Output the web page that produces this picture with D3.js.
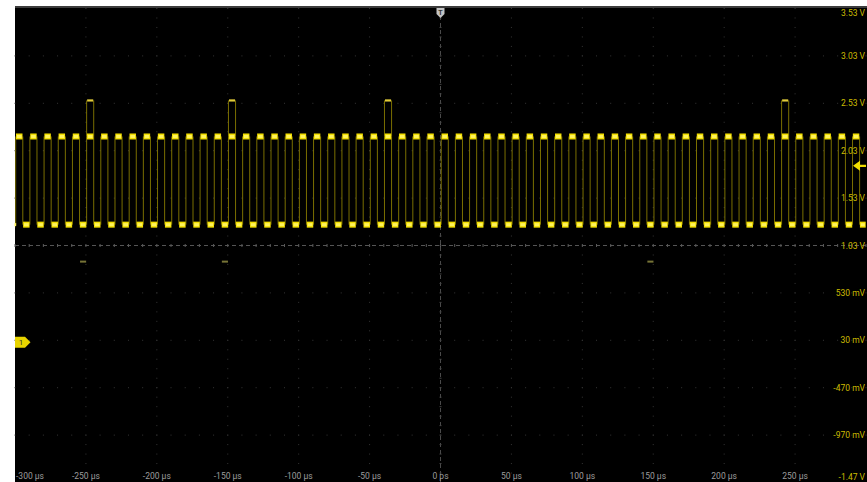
<!DOCTYPE html>
<html>
<head>
<meta charset="utf-8">
<script src="https://cdn.jsdelivr.net/npm/d3@7"></script>
<style>
  html, body { margin: 0; padding: 0; background: #ffffff; }
  svg { display: block; }
  text { font-family: Roboto, "DejaVu Sans", sans-serif; }
</style>
</head>
<body>
<svg id="chart" width="867" height="482"></svg>
<script>
// ---------- data ----------
const timeTicks = [-300, -250, -200, -150, -100, -50, 0, 50, 100, 150, 200, 250];
const timeLabels = ["-300 µs", "-250 µs", "-200 µs", "-150 µs", "-100 µs", "-50 µs", "0 ps", "50 µs", "100 µs", "150 µs", "200 µs", "250 µs"];
const voltTicks = [3.53, 3.03, 2.53, 2.03, 1.53, 1.03, 0.53, 0.03, -0.47, -0.97, -1.47];
const voltLabels = ["3.53 V", "3.03 V", "2.53 V", "2.03 V", "1.53 V", "1.03 V", "530 mV", "30 mV", "-470 mV", "-970 mV", "-1.47 V"];
// start times (µs) of each high interval of the square wave
const highStarts = [-299.5, -289.5, -279.5, -269.5, -259.5, -249.5, -239.5, -229.5, -219.5, -209.5,
  -199.5, -189.5, -179.5, -169.5, -159.5, -149.5, -139.5, -129.5, -119.5, -109.5,
  -99.5, -89.5, -79.5, -69.5, -59.5, -49.5, -39.5, -29.5, -19.5, -9.5,
  0.5, 10.5, 20.5, 30.5, 40.5, 50.5, 60.5, 70.5, 80.5, 90.5,
  100.5, 110.5, 120.5, 130.5, 140.5, 150.5, 160.5, 170.5, 180.5, 190.5,
  200.5, 210.5, 220.5, 230.5, 240.5, 250.5, 260.5, 270.5, 280.5, 290.5];
const halfPeriod = 5;          // µs
const highLevel = 2.18;        // V
const lowLevel = 1.25;         // V
const spikeStarts = [-249.5, -149.5, -39.5, 240.5];
const spikeLevel = 2.56;
const dipStarts = [-254.5, -154.5, 145.5];
const dipLevel = 0.86;
const triggerLevel = 1.87;
const ch1Ref = 0.0;

// ---------- layout ----------
const svg = d3.select("#chart");
const X0 = 15, X1 = 866, Y0 = 8.5, Y1 = 482.5;
const x = d3.scaleLinear().domain([-300, 300]).range([X0, X1]);
const y = d3.scaleLinear().domain([-1.47, 3.53]).range([Y1, Y0]);

const defs = svg.append("defs");
defs.append("filter").attr("id", "glow").attr("x", "-30%").attr("y", "-80%").attr("width", "160%").attr("height", "260%")
  .append("feGaussianBlur").attr("stdDeviation", 1.2);

svg.append("rect").attr("x", 0).attr("y", 0).attr("width", 867).attr("height", 482).attr("fill", "#ffffff");
svg.append("rect").attr("x", X0).attr("y", 6).attr("width", 867 - X0).attr("height", 482 - 6).attr("fill", "#000000");
svg.append("rect").attr("x", X0).attr("y", 6).attr("width", 867 - X0).attr("height", 2).attr("fill", "#3c3c3c");

// ---------- grid ----------
const grid = svg.append("g");
const xMinor = d3.range(-300, 300.01, 10);
const yMinor = d3.range(0, 51).map(i => 3.53 - i * 0.1);
// vertical dotted grid lines
timeTicks.filter(t => t !== 0 && t !== -300).forEach(t => {
  grid.selectAll(null).data(yMinor).enter().append("rect")
    .attr("x", x(t) - 0.5).attr("y", d => y(d) - 0.5).attr("width", 1).attr("height", 1)
    .attr("fill", "#353535");
});
// horizontal dotted grid lines
voltTicks.filter(v => Math.abs(v - 1.03) > 1e-6 && v !== 3.53 && v !== -1.47).forEach(v => {
  grid.selectAll(null).data(xMinor).enter().append("rect")
    .attr("x", d => x(d) - 0.5).attr("y", y(v) - 0.5).attr("width", 1).attr("height", 1)
    .attr("fill", "#353535");
});
// center dashed lines
grid.append("line").attr("x1", x(0)).attr("x2", x(0)).attr("y1", 16).attr("y2", Y1)
  .attr("stroke", "#4a4a4a").attr("stroke-width", 1).attr("stroke-dasharray", "4,3");
grid.append("line").attr("x1", X0).attr("x2", X1).attr("y1", y(1.03)).attr("y2", y(1.03))
  .attr("stroke", "#555555").attr("stroke-width", 1).attr("stroke-dasharray", "4,3");
// center tick marks
grid.selectAll(null).data(xMinor).enter().append("rect")
  .attr("x", d => x(d) - 0.5).attr("y", y(1.03) - 1.5).attr("width", 1).attr("height", 3).attr("fill", "#5a5a5a");
grid.selectAll(null).data(yMinor).enter().append("rect")
  .attr("x", x(0) - 1).attr("y", d => y(d) - 0.5).attr("width", 2).attr("height", 1).attr("fill", "#444");

// ---------- waveform ----------
const wave = svg.append("g");
// edges (vertical transitions)
const edges = [];
highStarts.forEach(s => { edges.push(s); edges.push(s + halfPeriod); });
wave.selectAll(null).data(edges.filter(e => e > -300 && e < 300)).enter().append("line")
  .attr("x1", d => x(d)).attr("x2", d => x(d))
  .attr("y1", y(highLevel)).attr("y2", y(lowLevel))
  .attr("stroke", "#a39400").attr("stroke-width", 1).attr("opacity", 0.75);

// glitch spikes
spikeStarts.forEach(s => {
  [s, s + halfPeriod].forEach(e => {
    wave.append("line").attr("x1", x(e)).attr("x2", x(e)).attr("y1", y(spikeLevel)).attr("y2", y(highLevel))
      .attr("stroke", "#a39400").attr("stroke-width", 1).attr("opacity", 0.75);
  });
  wave.append("line").attr("x1", x(s) + 0.5).attr("x2", x(s + halfPeriod) - 0.5).attr("y1", y(spikeLevel)).attr("y2", y(spikeLevel))
    .attr("stroke", "#e2cc3a").attr("stroke-width", 2.2);
});
dipStarts.forEach(s => {
  wave.append("line").attr("x1", x(s) + 0.5).attr("x2", x(s + halfPeriod) - 0.5).attr("y1", y(dipLevel)).attr("y2", y(dipLevel))
    .attr("stroke", "#777436").attr("stroke-width", 2);
});

// high and low plateaus
function clampX(t) { return x(Math.max(-300, Math.min(300, t))); }
const highSegs = highStarts.map(s => [s, s + halfPeriod]);
const lowSegs = highStarts.map(s => [s + halfPeriod, s + 2 * halfPeriod]);
lowSegs.unshift([-304.5, -299.5]);
function drawPlateaus(segs, level) {
  const g = wave.append("g");
  g.selectAll(null).data(segs).enter().append("line")
    .attr("x1", d => clampX(d[0])).attr("x2", d => clampX(d[1]))
    .attr("y1", y(level)).attr("y2", y(level))
    .attr("stroke", "#8a7d00").attr("stroke-width", 8).attr("filter", "url(#glow)");
  g.selectAll(null).data(segs).enter().append("line")
    .attr("x1", d => clampX(d[0]) + 0.3).attr("x2", d => clampX(d[1]) - 0.3)
    .attr("y1", y(level)).attr("y2", y(level))
    .attr("stroke", "#f2de00").attr("stroke-width", 6);
  g.selectAll(null).data(segs).enter().append("line")
    .attr("x1", d => clampX(d[0]) + 1.2).attr("x2", d => clampX(d[1]) - 1.2)
    .attr("y1", y(level)).attr("y2", y(level))
    .attr("stroke", "#fff35c").attr("stroke-width", 3);
}
drawPlateaus(highSegs, highLevel);
drawPlateaus(lowSegs, lowLevel);

// ---------- axis labels ----------
const lab = svg.append("g");
lab.selectAll(null).data(timeTicks).enter().append("text")
  .attr("x", (d, i) => i === 0 ? X0 + 1 : x(d))
  .attr("y", 479)
  .attr("text-anchor", (d, i) => i === 0 ? "start" : "middle")
  .attr("font-size", 8.5).attr("fill", "#9c9c9c")
  .text((d, i) => timeLabels[i]);
lab.selectAll(null).data(voltTicks).enter().append("text")
  .attr("x", 865)
  .attr("y", (d, i) => i === 0 ? 16 : (i === voltTicks.length - 1 ? 480 : y(d) + 3))
  .attr("text-anchor", "end")
  .attr("font-size", 8.5).attr("fill", "#cdbd00")
  .text((d, i) => voltLabels[i]);

// ---------- markers ----------
// trigger position marker (top)
const tx = x(0);
svg.append("path")
  .attr("d", `M${tx - 4},8 L${tx + 4},8 L${tx + 4},14 L${tx},18 L${tx - 4},14 Z`)
  .attr("fill", "#c4c4c4");
svg.append("text").attr("x", tx).attr("y", 15).attr("text-anchor", "middle")
  .attr("font-size", 7).attr("font-weight", "bold").attr("fill", "#333").text("T");
// trigger level arrow (right)
const ty = y(triggerLevel);
svg.append("path")
  .attr("d", `M853,${ty} L860,${ty - 5} L860,${ty - 1.2} L866,${ty - 1.2} L866,${ty + 1.2} L860,${ty + 1.2} L860,${ty + 5} Z`)
  .attr("fill", "#f0dc00");
// channel 1 reference marker (left)
const cy = y(ch1Ref) - 1;
svg.append("path")
  .attr("d", `M${X0},${cy - 5.5} L${X0 + 10},${cy - 5.5} L${X0 + 15.5},${cy} L${X0 + 10},${cy + 5.5} L${X0},${cy + 5.5} Z`)
  .attr("fill", "#e8d400");
svg.append("text").attr("x", X0 + 6).attr("y", cy + 3).attr("text-anchor", "middle")
  .attr("font-size", 8).attr("fill", "#333").text("1");
</script>
</body>
</html>
